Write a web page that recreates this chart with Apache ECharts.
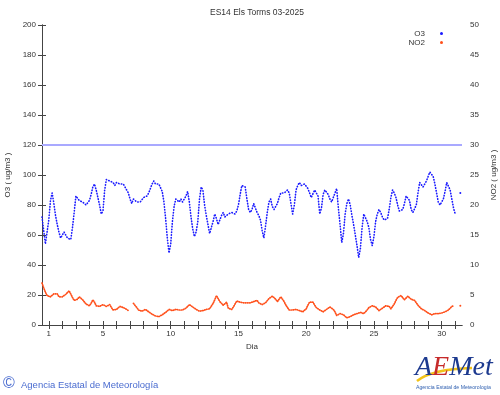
<!DOCTYPE html>
<html><head><meta charset="utf-8">
<script src="https://cdn.jsdelivr.net/npm/echarts@6/dist/echarts.min.js"></script>
<style>html,body{margin:0;padding:0;background:#fff}#c{width:500px;height:395px}</style>
</head><body><div id="c"></div>
<script>
// ---- data (hourly samples every 3 hours, March 2025) ----
const chartTitle = 'ES14 Els Torms 03-2025';
const stepHours = 3;
const totalHours = 744;
const dayTicks = [1,2,3,4,5,6,7,8,9,10,11,12,13,14,15,16,17,18,19,20,21,22,23,24,25,26,27,28,29,30,31];
const dayLabels = [1,5,10,15,20,25,30];
const o3Limit = 120;
const o3 = [
  72,63,54,55,70,83,88,81,
  73,67,62,58,59,62,63,58,
  57,57,65,75,86,85,83,82,
  82,81,80,80,83,87,92,94,
  90,85,80,74,76,90,97,98,
  96,95,95,93,95,95,94,93,
  94,92,91,88,84,81,84,83,
  82,81,82,82,85,86,86,88,
  91,94,96,94,93,94,93,89,
  82,71,58,48,54,69,79,84,
  83,82,84,82,83,86,89,82,
  72,64,59,62,69,84,92,90,
  80,73,67,61,60,69,74,71,
  67,70,73,75,72,71,74,75,
  75,75,74,76,80,87,93,94,
  92,84,77,75,77,81,80,75,
  73,70,63,58,66,75,82,84,
  79,77,78,81,85,88,89,88,
  89,90,88,81,74,80,90,93,
  95,93,93,94,93,91,88,85,
  86,90,88,86,74,78,87,90,
  89,87,84,82,83,88,91,78,
  67,55,61,74,81,84,80,73,
  67,60,53,45,51,65,74,73,
  69,65,57,53,59,69,74,77,
  75,72,70,69,71,77,85,90,
  88,85,80,76,75,77,81,86,
  86,83,77,75,75,80,88,95,
  95,92,94,96,99,102,103,99,
  94,88,82,80,79,84,89,95,
  94,90,84,78,74,null,null,88
];
const no2 = [
  7.0,6.2,5.5,4.9,4.7,4.7,4.8,5.2,
  5.5,5.2,4.7,4.4,4.7,5.0,5.1,5.4,
  5.7,5.6,4.6,4.1,3.9,4.3,4.7,4.5,
  4.2,3.9,3.5,3.2,3.2,3.6,4.2,3.8,
  3.2,3.1,3.1,3.3,3.4,3.3,3.1,3.3,
  3.4,2.9,2.5,2.3,2.6,2.9,3.1,3.1,
  2.9,2.7,2.6,2.4,null,null,3.6,3.4,
  2.9,2.5,2.2,2.3,2.4,2.6,2.6,2.2,
  1.9,1.8,1.6,1.5,1.4,1.4,1.5,1.7,
  1.9,2.1,2.3,2.6,2.7,2.4,2.3,2.6,
  2.7,2.5,2.4,2.5,2.6,2.8,3.1,3.4,
  3.3,3.0,2.7,2.6,2.4,2.3,2.2,2.4,
  2.6,2.6,2.5,2.7,3.0,3.6,4.2,4.9,
  4.6,3.9,4.2,3.3,3.6,3.8,2.8,2.7,
  2.6,3.0,3.3,4.0,4.0,3.8,3.7,3.7,
  3.7,3.7,3.7,3.7,3.8,3.9,4.1,4.1,
  3.7,3.5,3.4,3.3,3.7,4.0,4.4,4.7,
  4.8,4.8,4.3,3.9,4.3,4.7,4.8,3.9,
  3.3,2.9,2.5,2.4,2.5,2.6,2.6,2.5,
  2.4,2.3,2.2,2.3,2.7,3.3,3.8,3.9,
  3.8,3.3,2.9,2.6,2.5,2.5,2.2,2.4,
  2.6,2.8,3.0,3.1,2.6,2.2,1.6,1.5,
  1.9,1.8,1.7,1.4,1.2,1.2,1.4,1.5,
  1.7,1.8,1.9,2.0,2.1,2.0,1.9,2.0,
  2.5,2.9,3.1,3.2,3.1,3.0,2.7,2.4,
  2.6,2.8,3.0,3.2,3.3,3.1,2.7,3.0,
  3.5,4.1,4.6,4.8,4.9,4.8,4.2,4.2,
  4.8,4.7,4.3,4.2,4.1,3.8,3.3,3.0,
  2.7,2.5,2.4,2.2,2.0,1.8,1.7,1.9,
  1.9,1.9,1.9,2.0,2.0,2.1,2.2,2.4,
  2.5,2.8,3.1,3.2,null,null,null,3.2
];

// ---- chart ----
const toPairs = arr => arr.map((v, i) => [i * stepHours, v === null ? '-' : v]);
const isolated = arr => i => arr[i] !== null && (i === 0 || arr[i - 1] === null) && (i === arr.length - 1 || arr[i + 1] === null);
const dayToHour = d => (d - 1) * 24 + 12;
const FONT = 'Liberation Sans';
const axisCol = '#444';
const txtCol = '#333';
const o3Col = '#1a1aff';
const no2Col = '#ff4f1a';
const o3Iso = isolated(o3);
const no2Iso = isolated(no2);

const chart = echarts.init(document.getElementById('c'), null, {renderer: 'canvas'});
chart.setOption({
  animation: false,
  backgroundColor: '#fff',
  textStyle: {fontFamily: FONT},
  title: {
    text: chartTitle, left: 252, top: 3, textAlign: 'center',
    textStyle: {fontFamily: FONT, fontSize: 8.5, fontWeight: 'normal', color: txtCol}
  },
  legend: {
    data: ['O3', 'NO2'], orient: 'vertical', right: 52, top: 24, align: 'right',
    itemWidth: 3, itemHeight: 3, itemGap: 0, icon: 'circle', selectedMode: false,
    textStyle: {fontFamily: FONT, fontSize: 8, color: txtCol, lineHeight: 9, padding: [0, 10, 0, 0]}
  },
  grid: {left: 42, right: 38, top: 25, bottom: 70, containLabel: false, outerBoundsMode: 'none'},
  xAxis: [{
    type: 'value', min: 0, max: totalHours, position: 'bottom',
    name: 'Dia', nameLocation: 'middle', nameGap: 18,
    nameTextStyle: {fontFamily: FONT, fontSize: 8, color: txtCol},
    axisLine: {show: true, lineStyle: {color: axisCol, width: 1}},
    axisTick: {show: true, inside: true, length: 4, customValues: dayTicks.map(dayToHour), lineStyle: {color: axisCol}},
    axisLabel: {show: true, customValues: dayLabels.map(dayToHour), formatter: v => String(Math.round((v - 12) / 24 + 1)),
      fontFamily: FONT, fontSize: 8, color: txtCol, margin: 5},
    splitLine: {show: false}
  }, {
    type: 'value', min: 0, max: totalHours, position: 'top',
    axisLine: {show: true, lineStyle: {color: axisCol, width: 1}},
    axisTick: {show: true, inside: true, length: 4, customValues: dayTicks.map(dayToHour), lineStyle: {color: axisCol}},
    axisLabel: {show: false},
    splitLine: {show: false}
  }],
  yAxis: [{
    type: 'value', min: 0, max: 200, interval: 20, position: 'left',
    name: 'O3 ( ug/m3 )', nameLocation: 'middle', nameGap: 29, nameRotate: 90,
    nameTextStyle: {fontFamily: FONT, fontSize: 8, color: txtCol},
    axisLine: {show: true, lineStyle: {color: axisCol, width: 1}},
    axisTick: {show: true, inside: true, length: 4, lineStyle: {color: axisCol}},
    axisLabel: {fontFamily: FONT, fontSize: 8, color: txtCol, margin: 6},
    splitLine: {show: false}
  }, {
    type: 'value', min: 0, max: 50, interval: 5, position: 'right',
    name: 'NO2 ( ug/m3 )', nameLocation: 'middle', nameGap: 27, nameRotate: 90,
    nameTextStyle: {fontFamily: FONT, fontSize: 8, color: txtCol},
    axisLine: {show: true, lineStyle: {color: axisCol, width: 1}},
    axisTick: {show: true, inside: true, length: 4, lineStyle: {color: axisCol}},
    axisLabel: {fontFamily: FONT, fontSize: 8, color: txtCol, margin: 8},
    splitLine: {show: false}
  }],
  series: [{
    name: 'O3', type: 'line', xAxisIndex: 0, yAxisIndex: 0,
    data: toPairs(o3), showSymbol: true, showAllSymbol: true, symbol: 'circle',
    symbolSize: (v, p) => o3Iso(p.dataIndex) ? 2 : 0,
    connectNulls: false,
    itemStyle: {color: o3Col},
    lineStyle: {color: o3Col, width: 1.6, type: [0.5, 2.3], cap: 'round', join: 'round'},
    silent: true,
    markLine: {
      silent: true, symbol: 'none', label: {show: false},
      lineStyle: {color: '#a9a9ff', width: 2, type: 'solid'},
      data: [{yAxis: o3Limit}]
    }
  }, {
    name: 'NO2', type: 'line', xAxisIndex: 0, yAxisIndex: 1,
    data: toPairs(no2), showSymbol: true, showAllSymbol: true, symbol: 'circle',
    symbolSize: (v, p) => no2Iso(p.dataIndex) ? 2 : 0,
    connectNulls: false,
    itemStyle: {color: no2Col},
    lineStyle: {color: no2Col, width: 1.7, type: [0.5, 1.6], cap: 'round', join: 'round'},
    silent: true
  }],
  graphic: [
    {type: 'text', left: 3, top: 376, silent: true,
      style: {text: '\u00A9', fontFamily: FONT, fontSize: 16, fill: '#4a6cd0'}},
    {type: 'text', left: 21, top: 380, silent: true,
      style: {text: 'Agencia Estatal de Meteorología', fontFamily: FONT, fontSize: 9.5, fill: '#4a6cd0'}},
    {type: 'bezierCurve', silent: true,
      shape: {x1: 417, y1: 381, cpx1: 432, cpy1: 369, x2: 472, y2: 368},
      style: {stroke: '#f2c318', lineWidth: 2.5, fill: null}},
    {type: 'text', left: 415, top: 354, silent: true,
      style: {text: '{a|A}{e|E}{m|Met}', fontFamily: 'Liberation Serif', fontStyle: 'italic', fontSize: 28,
        rich: {
          a: {fill: '#1d3a8f', fontFamily: 'Liberation Serif', fontStyle: 'italic', fontSize: 28},
          e: {fill: '#c62a2a', fontFamily: 'Liberation Serif', fontStyle: 'italic', fontSize: 28},
          m: {fill: '#1d3a8f', fontFamily: 'Liberation Serif', fontStyle: 'italic', fontSize: 28}
        }}},
    {type: 'text', left: 416, top: 385, silent: true,
      style: {text: 'Agencia Estatal de Meteorología', fontFamily: FONT, fontSize: 5.2, fill: '#2f5fb0'}}
  ]
});
</script>
</body></html>
